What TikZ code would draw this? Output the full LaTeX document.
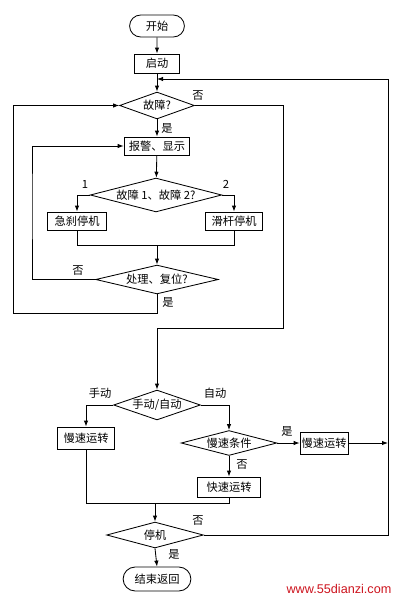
\documentclass[tikz,border=0pt]{standalone}
\usepackage{fontspec}
\setsansfont{Liberation Sans}
\newfontfamily\cjk{Noto Sans CJK SC}
\usetikzlibrary{arrows.meta,shapes.geometric,shapes.misc}
\definecolor{markred}{RGB}{205,20,30}
\newdimen\pxu \pxu=0.7087pt

\begin{document}
\begin{tikzpicture}[x=0.025cm,y=-0.025cm,line width=0.6pt,
  every node/.style={font=\cjk\fontsize{8}{9}\selectfont},
  box/.style={draw,rectangle,inner sep=0pt,minimum height=18\pxu},
  term/.style={draw,rounded rectangle,inner sep=0pt},
  dec/.style={draw,diamond,inner sep=0pt},
  arr/.style={-{Latex[length=1.5mm,width=1.1mm]}}]
\useasboundingbox (0,0) rectangle (400,602);
% blocks
\node[term,minimum width=55\pxu,minimum height=22\pxu] (start) at (157,26) {开始};
\node[box,minimum width=45\pxu,minimum height=19\pxu] (run) at (157,63.5) {启动};
\node[dec,minimum width=75\pxu,minimum height=27\pxu,shape aspect=2.78] (fault) at (157,105.5) {故障?};
\node[box,minimum width=66\pxu] (alarm) at (157,146) {报警、显示};
\node[dec,minimum width=132\pxu,minimum height=34\pxu,shape aspect=3.9] (which) at (156,195) {故障 1、故障 2?};
\node[box,minimum width=60\pxu] (brake) at (77,221) {急刹停机};
\node[box,minimum width=58\pxu] (slide) at (234,221) {滑杆停机};
\node[dec,minimum width=123\pxu,minimum height=29\pxu,shape aspect=4.24] (reset) at (157,279.5) {处理、复位?};
\node[dec,minimum width=87\pxu,minimum height=30\pxu,shape aspect=2.9] (mode) at (157,405) {手动/自动};
\node[box,minimum width=57\pxu,minimum height=22\pxu] (slowa) at (86,438) {慢速运转};
\node[dec,minimum width=96\pxu,minimum height=25\pxu,shape aspect=3.84] (cond) at (229,443) {慢速条件};
\node[box,minimum width=48\pxu,minimum height=22\pxu] (slowb) at (324,443) {慢速运转};
\node[box,minimum width=63\pxu,minimum height=20\pxu] (fast) at (229,487) {快速运转};
\node[dec,minimum width=97\pxu,minimum height=26\pxu,shape aspect=3.7] (stop) at (155,535) {停机};
\node[term,minimum width=68\pxu,minimum height=24\pxu] (end) at (157,579) {结束返回};
% corner points
\coordinate (back) at (157,79);
\coordinate (rtop) at (388,79);
\coordinate (rmid) at (283,328);
\coordinate (lout) at (13,313);
\coordinate (lin) at (32,200);
\coordinate (j1) at (157,245);
\coordinate (j2) at (155,503);
% connectors
\draw[arr] (start) -- (run);
\draw[arr] (run) -- (fault);
\draw[arr] (fault) -- (alarm);
\draw[arr] (alarm) -- (which);
\draw[arr] (which.west) -| (brake.north);
\draw[arr] (which.east) -| (slide.north);
\draw (brake.south) |- (j1);
\draw (slide.south) |- (j1);
\draw[arr] (j1) -- (reset.north);
\draw[arr] (reset.west) -| (lin) |- (alarm.west);
\draw[arr] (reset.south) |- (lout) |- (fault.west);
\draw[arr] (fault.east) -| (rmid) -| (mode.north);
\draw[arr] (mode.west) -| (slowa.north);
\draw[arr] (mode.east) -| (cond.north);
\draw[arr] (cond.east) -- (slowb.west);
\draw[arr] (cond.south) -- (fast.north);
\draw[arr] (slowb.east) -- (slowb.east -| rtop);
\draw (slowa.south) |- (j2);
\draw (fast.south) |- (j2);
\draw[arr] (j2) -- (stop.north);
\draw[arr] (stop.south) -- (end.north);
\draw[arr] (stop.east) -| (rtop) -- (back);
% labels
\node (n1) at (198,96) {否};
\node (y1) at (167,128) {是};
\node (c1) at (85,184) {1};
\node (c2) at (226,184) {2};
\node (n2) at (78,271) {否};
\node (y2) at (168,302) {是};
\node (m1) at (100,393) {手动};
\node (m2) at (215,393) {自动};
\node (y3) at (287,431) {是};
\node (n3) at (242,465) {否};
\node (n4) at (198,521) {否};
\node (y4) at (174,554) {是};
\node[font=\sffamily\fontsize{9}{10}\selectfont,text=markred] (web) at (339,589) {www.55dianzi.com};
\end{tikzpicture}
\end{document}
